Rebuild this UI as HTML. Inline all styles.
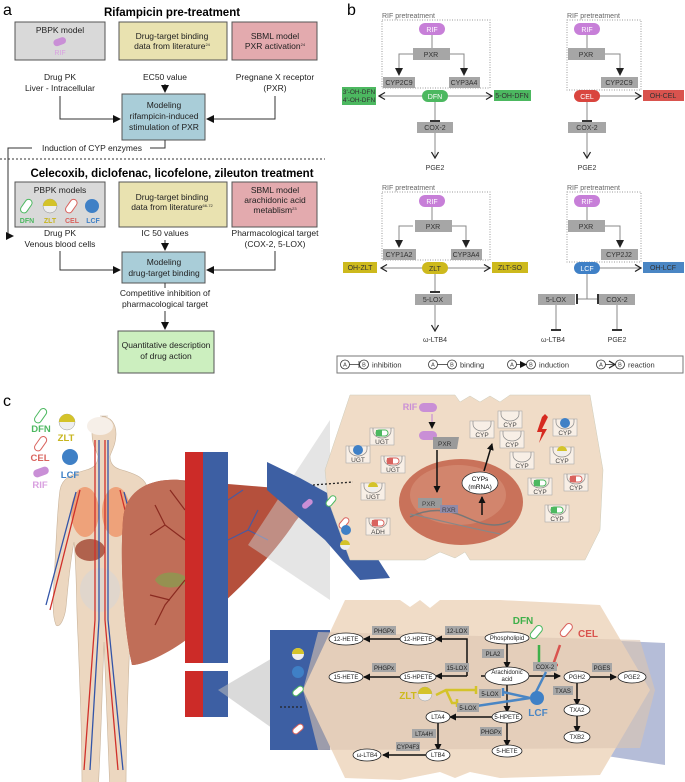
<!DOCTYPE html>
<html><head><meta charset="utf-8"><style>
html,body{margin:0;padding:0;background:#fff}
svg{display:block;font-family:"Liberation Sans",sans-serif}
</style></head><body>
<svg width="685" height="782" viewBox="0 0 685 782" xmlns="http://www.w3.org/2000/svg">
<defs>
<marker id="tri" markerWidth="8" markerHeight="8" refX="7" refY="4" orient="auto" markerUnits="userSpaceOnUse"><path d="M0,0L8,4L0,8z" fill="#111"/></marker>
<marker id="trig" markerWidth="8" markerHeight="8" refX="7" refY="4" orient="auto" markerUnits="userSpaceOnUse"><path d="M0,0L8,4L0,8z" fill="#222"/></marker>
<marker id="chev" markerWidth="8" markerHeight="8" refX="7" refY="4" orient="auto" markerUnits="userSpaceOnUse"><path d="M1,0.5L7,4L1,7.5" fill="none" stroke="#222" stroke-width="1.2"/></marker>
<marker id="bar" markerWidth="4" markerHeight="10" refX="2" refY="5" orient="auto" markerUnits="userSpaceOnUse"><path d="M2,0V10" stroke="#333" stroke-width="2"/></marker>
<marker id="arr" markerWidth="7" markerHeight="7" refX="6" refY="3.5" orient="auto" markerUnits="userSpaceOnUse"><path d="M0,0L7,3.5L0,7z" fill="#111"/></marker>
<g id="pk"><rect x="-12" y="-9" width="24" height="17" fill="#f8efe6" stroke="#aaa" stroke-width=".6"/><path d="M-9,-9v3a9,7 0 0 0 18,0v-3" fill="none" stroke="#888" stroke-width=".7"/></g>
</defs>

<!-- ============ PANEL A ============ -->
<text x="3" y="15" font-size="16">a</text>
<text x="172" y="16" font-size="11.5" font-weight="bold" text-anchor="middle">Rifampicin pre-treatment</text>
<g stroke="#555" stroke-width="1">
<rect x="15" y="22" width="90" height="38" fill="#d9d9d9"/>
<rect x="119" y="22" width="108" height="38" fill="#e9e2b0"/>
<rect x="232" y="22" width="85" height="38" fill="#e3aaae"/>
<rect x="122" y="94" width="83" height="46" fill="#a9cdd8"/>
<rect x="15" y="182" width="90" height="45" fill="#d9d9d9"/>
<rect x="119" y="182" width="108" height="45" fill="#e9e2b0"/>
<rect x="232" y="182" width="85" height="45" fill="#e3aaae"/>
<rect x="122" y="252" width="83" height="31" fill="#a9cdd8"/>
<rect x="118" y="331" width="96" height="42" fill="#ccefbf"/>
</g>
<g font-size="8.5" fill="#222" text-anchor="middle">
<text x="60" y="33">PBPK model</text>
<rect x="53" y="38" width="13" height="7" rx="3.5" fill="#c98fd6" transform="rotate(-20 60 41)"/>
<text x="60" y="55" fill="#d9a0e0" font-size="7">RIF</text>
<text x="172" y="39">Drug-target binding</text>
<text x="172" y="49">data from literature<tspan font-size="4" dy="-3">24</tspan></text>
<text x="275" y="39">SBML model</text>
<text x="275" y="49">PXR activation<tspan font-size="4" dy="-3">24</tspan></text>
<text x="60" y="80">Drug PK</text>
<text x="60" y="91">Liver - Intracellular</text>
<text x="165" y="80">EC50 value</text>
<text x="275" y="80">Pregnane X receptor</text>
<text x="275" y="91">(PXR)</text>
<text x="164" y="108">Modeling</text>
<text x="164" y="119">rifampicin-induced</text>
<text x="164" y="130">stimulation of PXR</text>
<text x="92" y="151">Induction of CYP enzymes</text>
<text x="60" y="193">PBPK models</text>
<text x="172" y="200">Drug-target binding</text>
<text x="172" y="210">data from literature<tspan font-size="4" dy="-3">66-72</tspan></text>
<text x="275" y="193">SBML model</text>
<text x="275" y="203">arachidonic acid</text>
<text x="275" y="213">metablism<tspan font-size="4" dy="-3">23</tspan></text>
<text x="60" y="236">Drug PK</text>
<text x="60" y="247">Venous blood cells</text>
<text x="165" y="236">IC 50 values</text>
<text x="275" y="236">Pharmacological target</text>
<text x="275" y="247">(COX-2, 5-LOX)</text>
<text x="164" y="265">Modeling</text>
<text x="164" y="276">drug-target binding</text>
<text x="165" y="296">Competitive inhibition of</text>
<text x="165" y="307">pharmacological target</text>
<text x="166" y="348">Quantitative description</text>
<text x="166" y="359">of drug action</text>
</g>
<g font-size="7" font-weight="bold" text-anchor="middle">
<rect x="23" y="199" width="7" height="15" rx="3.5" fill="#fff" stroke="#4cb860" transform="rotate(35 27 206)"/>
<text x="27" y="223" fill="#4cb860">DFN</text>
<circle cx="50" cy="206" r="7" fill="#eee" stroke="#888" stroke-width=".5"/><path d="M43,206a7,7 0 0 1 14,0z" fill="#d4c32a"/>
<text x="50" y="223" fill="#c7b51f">ZLT</text>
<rect x="68" y="199" width="7" height="15" rx="3.5" fill="#fff" stroke="#d9635e" transform="rotate(35 72 206)"/>
<text x="72" y="223" fill="#d9635e">CEL</text>
<circle cx="92" cy="206" r="7" fill="#3f80c6"/>
<text x="93" y="223" fill="#3f80c6">LCF</text>
</g>
<g stroke="#333" stroke-width="1" fill="none">
<path d="M60,96V119H120" marker-end="url(#tri)"/>
<path d="M275,96V119H207" marker-end="url(#tri)"/>
<path d="M165,84V92" marker-end="url(#tri)"/>
<path d="M165,140V148H150"/>
<path d="M32,148H8V236H13" marker-end="url(#tri)"/>
<path d="M60,251V270H120" marker-end="url(#tri)"/>
<path d="M275,251V270H207" marker-end="url(#tri)"/>
<path d="M165,240V250" marker-end="url(#tri)"/>
<path d="M165,283V288"/>
<path d="M165,311V329" marker-end="url(#tri)"/>
<path d="M0,159H325" stroke-dasharray="2,2"/>
</g>
<text x="172" y="177" font-size="11.5" font-weight="bold" text-anchor="middle">Celecoxib, diclofenac, licofelone, zileuton treatment</text>

<!-- ============ PANEL B ============ -->
<text x="347" y="15" font-size="16">b</text>
<g font-size="7" fill="#333" text-anchor="middle">
<text x="382" y="18" text-anchor="start" fill="#666">RIF pretreatment</text>
<rect x="382" y="20" width="108" height="68" fill="none" stroke="#999" stroke-dasharray="1,1.5"/>
<g stroke="#888" fill="none" stroke-width="1">
<path d="M432,35V48"/>
<path d="M413,54H399V75" marker-end="url(#trig)"/>
<path d="M450,54H464V75" marker-end="url(#trig)"/>
<path d="M422,96H379" marker-end="url(#chev)"/>
<path d="M448,96H492" marker-end="url(#chev)"/>
<path d="M435,102V121" marker-end="url(#bar)"/>
<path d="M435,133V158" marker-end="url(#chev)"/>
</g>
<rect x="419" y="23" width="26" height="12" rx="6" fill="#c77fd8"/><text x="432" y="32" fill="#fff">RIF</text>
<rect x="413" y="48" width="37" height="12" fill="#a6a6a6"/><text x="431" y="57">PXR</text>
<rect x="383" y="77" width="32" height="11" fill="#a6a6a6"/><text x="399" y="85">CYP2C9</text>
<rect x="449" y="77" width="31" height="11" fill="#a6a6a6"/><text x="464" y="85">CYP3A4</text>
<rect x="422" y="90" width="26" height="12" rx="6" fill="#4cb860"/><text x="435" y="99" fill="#fff">DFN</text>
<rect x="342" y="87" width="34" height="18" fill="#4cb860"/><text x="359" y="94" font-size="6.5">3'-OH-DFN</text><text x="359" y="102" font-size="6.5">4'-OH-DFN</text>
<rect x="494" y="90" width="37" height="11" fill="#4cb860"/><text x="512" y="98">5-OH-DFN</text>
<rect x="417" y="122" width="36" height="11" fill="#a6a6a6"/><text x="435" y="130">COX-2</text>
<text x="435" y="170">PGE2</text>

<text x="567" y="18" text-anchor="start" fill="#666">RIF pretreatment</text>
<rect x="567" y="20" width="74" height="70" fill="none" stroke="#999" stroke-dasharray="1,1.5"/>
<g stroke="#888" fill="none">
<path d="M587,35V48"/>
<path d="M605,54H620V75" marker-end="url(#trig)"/>
<path d="M600,96H641" marker-end="url(#chev)"/>
<path d="M587,102V121" marker-end="url(#bar)"/>
<path d="M587,133V158" marker-end="url(#chev)"/>
</g>
<rect x="574" y="23" width="26" height="12" rx="6" fill="#c77fd8"/><text x="587" y="32" fill="#fff">RIF</text>
<rect x="568" y="48" width="37" height="12" fill="#a6a6a6"/><text x="586" y="57">PXR</text>
<rect x="601" y="77" width="37" height="11" fill="#a6a6a6"/><text x="619" y="85">CYP2C9</text>
<rect x="574" y="90" width="26" height="12" rx="6" fill="#d9453e"/><text x="587" y="99" fill="#fff">CEL</text>
<rect x="643" y="90" width="41" height="11" fill="#d9534e"/><text x="663" y="98">OH-CEL</text>
<rect x="568" y="122" width="38" height="11" fill="#a6a6a6"/><text x="587" y="130">COX-2</text>
<text x="587" y="170">PGE2</text>

<text x="382" y="190" text-anchor="start" fill="#666">RIF pretreatment</text>
<rect x="382" y="192" width="108" height="68" fill="none" stroke="#999" stroke-dasharray="1,1.5"/>
<g stroke="#888" fill="none">
<path d="M432,207V220"/>
<path d="M413,226H399V247" marker-end="url(#trig)"/>
<path d="M450,226H466V247" marker-end="url(#trig)"/>
<path d="M422,268H381" marker-end="url(#chev)"/>
<path d="M448,268H490" marker-end="url(#chev)"/>
<path d="M435,274V292" marker-end="url(#bar)"/>
<path d="M435,305V331" marker-end="url(#chev)"/>
</g>
<rect x="419" y="195" width="26" height="12" rx="6" fill="#c77fd8"/><text x="432" y="204" fill="#fff">RIF</text>
<rect x="415" y="220" width="37" height="12" fill="#a6a6a6"/><text x="433" y="229">PXR</text>
<rect x="383" y="249" width="33" height="11" fill="#a6a6a6"/><text x="399" y="257">CYP1A2</text>
<rect x="451" y="249" width="31" height="11" fill="#a6a6a6"/><text x="466" y="257">CYP3A4</text>
<rect x="422" y="262" width="26" height="12" rx="6" fill="#cdb91d"/><text x="435" y="271">ZLT</text>
<rect x="343" y="262" width="34" height="11" fill="#cdb91d"/><text x="360" y="270">OH-ZLT</text>
<rect x="492" y="262" width="36" height="11" fill="#cdb91d"/><text x="510" y="270">ZLT-SO</text>
<rect x="415" y="294" width="37" height="11" fill="#a6a6a6"/><text x="433" y="302">5-LOX</text>
<text x="435" y="342">ω-LTB4</text>

<text x="567" y="190" text-anchor="start" fill="#666">RIF pretreatment</text>
<rect x="567" y="192" width="74" height="70" fill="none" stroke="#999" stroke-dasharray="1,1.5"/>
<g stroke="#888" fill="none">
<path d="M587,207V220"/>
<path d="M605,226H620V247" marker-end="url(#trig)"/>
<path d="M600,268H641" marker-end="url(#chev)"/>
<path d="M587,274V299"/>
<path d="M587,299H577" marker-end="url(#bar)"/>
<path d="M587,299H598" marker-end="url(#bar)"/>
<path d="M556,305V330" marker-end="url(#bar)"/>
<path d="M617,305V330" marker-end="url(#bar)"/>
</g>
<rect x="574" y="195" width="26" height="12" rx="6" fill="#c77fd8"/><text x="587" y="204" fill="#fff">RIF</text>
<rect x="568" y="220" width="37" height="12" fill="#a6a6a6"/><text x="586" y="229">PXR</text>
<rect x="601" y="249" width="37" height="11" fill="#a6a6a6"/><text x="619" y="257">CYP2J2</text>
<rect x="574" y="262" width="26" height="12" rx="6" fill="#3f80c6"/><text x="587" y="271" fill="#fff">LCF</text>
<rect x="643" y="262" width="41" height="11" fill="#4a86c4"/><text x="663" y="270">OH-LCF</text>
<rect x="538" y="294" width="37" height="11" fill="#a6a6a6"/><text x="556" y="302">5-LOX</text>
<rect x="599" y="294" width="36" height="11" fill="#a6a6a6"/><text x="617" y="302">COX-2</text>
<text x="553" y="342">ω-LTB4</text>
<text x="617" y="342">PGE2</text>
</g>
<rect x="337" y="356" width="346" height="17" fill="#fff" stroke="#777"/>
<g font-size="7.5" fill="#333">
<g fill="none" stroke="#333" stroke-width=".8">
<circle cx="345" cy="364.5" r="4.5"/><circle cx="364" cy="364.5" r="4.5"/><path d="M349.5,364.5H359M359,361V368"/>
<circle cx="433" cy="364.5" r="4.5"/><circle cx="452" cy="364.5" r="4.5"/><path d="M437.5,364.5H447.5"/>
<circle cx="512" cy="364.5" r="4.5"/><circle cx="531" cy="364.5" r="4.5"/><path d="M516.5,364.5H526" marker-end="url(#arr)"/>
<circle cx="601" cy="364.5" r="4.5"/><circle cx="620" cy="364.5" r="4.5"/><path d="M605.5,364.5H615" marker-end="url(#chev)"/>
</g>
<g font-size="5.5" text-anchor="middle"><text x="345" y="366.5">A</text><text x="364" y="366.5">B</text><text x="433" y="366.5">A</text><text x="452" y="366.5">B</text><text x="512" y="366.5">A</text><text x="531" y="366.5">B</text><text x="601" y="366.5">A</text><text x="620" y="366.5">B</text></g>
<text x="372" y="367.5">inhibition</text><text x="460" y="367.5">binding</text><text x="539" y="367.5">induction</text><text x="628" y="367.5">reaction</text>
</g>

<!-- ============ PANEL C ============ -->
<text x="3" y="406" font-size="16">c</text>
<!-- human -->
<path d="M100,416c11,0 16,8 16,18c0,10 -4,16 -6,22c0,8 4,12 12,14c14,4 24,8 26,20c3,20 4,60 6,90c1,20 2,35 -2,45c-4,4 -9,-8 -10,-18c-2,-20 -4,-45 -8,-65c-3,30 -2,60 -4,95c-2,50 -4,100 -4,155c-1,5 -14,5 -16,0c-2,-50 -4,-100 -6,-150c-2,50 -3,100 -6,150c-2,5 -15,5 -16,0c0,-55 -2,-105 -4,-155c-2,-35 -1,-65 -4,-95c-4,20 -6,45 -8,65c-1,10 -6,22 -10,18c-4,-10 -3,-25 -2,-45c2,-30 3,-70 6,-90c2,-12 12,-16 26,-20c8,-2 12,-6 12,-14c-2,-6 -6,-12 -6,-22c0,-10 5,-18 16,-18z" fill="#ecd7c0" stroke="#c9b49c" stroke-width=".6"/>
<ellipse cx="100" cy="426" rx="13" ry="9" fill="#f6efe8"/>
<ellipse cx="85" cy="512" rx="14" ry="25" fill="#eea27a"/>
<ellipse cx="116" cy="512" rx="14" ry="25" fill="#eea27a"/>
<ellipse cx="90" cy="550" rx="15" ry="11" fill="#b0624d"/>
<ellipse cx="100" cy="590" rx="20" ry="22" fill="#e0d6cc"/>
<g stroke="#d0302a" stroke-width="1.3" fill="none"><path d="M95,440V620L84,770M105,440V620L118,770M80,490L50,610M120,490L150,610"/></g>
<g stroke="#3355a8" stroke-width="1.3" fill="none"><path d="M99,440V620L90,770M108,440V620L123,770M76,492L46,605M124,492L154,605"/></g>
<!-- legend pills -->
<g font-size="9.5" font-weight="bold" text-anchor="middle">
<rect x="37" y="408" width="7" height="16" rx="3.5" fill="#fff" stroke="#4cb860" transform="rotate(35 41 416)"/>
<text x="41" y="432" fill="#4cb860">DFN</text>
<circle cx="67" cy="422" r="8" fill="#eee" stroke="#999" stroke-width=".5"/><path d="M59,422a8,8 0 0 1 16,0z" fill="#d4c32a"/>
<text x="66" y="441" fill="#c7b51f">ZLT</text>
<rect x="37" y="436" width="7" height="16" rx="3.5" fill="#fff" stroke="#d9635e" transform="rotate(35 41 444)"/>
<text x="40" y="461" fill="#d9635e">CEL</text>
<circle cx="70" cy="457" r="8" fill="#3f80c6"/>
<text x="70" y="478" fill="#3f80c6">LCF</text>
<rect x="33" y="468" width="16" height="8" rx="4" fill="#c98fd6" transform="rotate(-20 41 472)"/>
<text x="40" y="488" fill="#d9a0e0">RIF</text>
</g>
<!-- liver -->
<path d="M123,520C125,490 150,478 180,480L300,490C312,496 305,510 295,522C270,560 230,598 195,628C170,650 145,665 132,665C123,625 120,560 123,520z" fill="#b5503c"/>
<path d="M123,520C125,490 150,478 180,480L186,482L186,640C170,652 145,665 132,665C123,625 120,560 123,520z" fill="#c06e58"/>
<path d="M155,580c5,-10 25,-10 35,0c-10,10 -30,10 -35,0z" fill="#8a9a50" opacity=".8"/>
<g stroke="#8a2a20" stroke-width="1.2" fill="none"><path d="M185,540l-20,-15l-10,-20M165,525l-15,10M185,580l-20,25l-10,20M170,600l-20,-5M185,510l-15,-20"/></g>
<g stroke="#4a5aa0" stroke-width="1.2" fill="none"><path d="M228,540l20,-10l10,-20M248,530l20,10M228,500l15,-10"/></g>
<!-- vessels -->
<rect x="185" y="452" width="18" height="265" fill="#cc2b28"/>
<rect x="203" y="452" width="25" height="265" fill="#3d5fa3"/>
<rect x="185" y="663" width="43" height="8" fill="#fff"/>
<!-- zoom cones -->
<path d="M248,545L330,420L330,600z" fill="#ccc" opacity=".5"/>
<path d="M218,690L303,640L303,750z" fill="#bbb" opacity=".55"/>
<!-- blue vessel to top cell -->
<path d="M267,462L300,478L340,500L390,578L360,580L325,540L267,490z" fill="#3d5fa3"/>
<!-- top cell -->
<path d="M350,395L455,395L460,402L470,396L480,402L490,396L500,402L510,395L590,395L603,470L600,530L585,560L470,560L465,552L455,558L440,552L425,560L350,560L328,500L325,470z" fill="#f0dcc7" stroke="#ccb" stroke-width=".5"/>
<path d="M313,485l40,-3" stroke="#222" stroke-width="1.3" stroke-dasharray="2,2" fill="none"/>
<ellipse cx="461" cy="502" rx="62" ry="43" fill="#c9725a"/>
<ellipse cx="458" cy="495" rx="48" ry="30" fill="#d8927a" opacity=".6"/>
<path d="M410,517c25,-12 45,-5 60,2c15,7 30,8 40,2" stroke="#777" stroke-width="1.5" fill="none"/>
<path d="M410,514c25,5 50,12 90,20" stroke="#888" stroke-width="1.2" fill="none"/>
<rect x="418" y="498" width="24" height="10" fill="#9a9a9a"/><text x="422" y="506" font-size="6.5" fill="#444">PXR</text>
<rect x="440" y="505" width="18" height="8" fill="#8f8aa8"/><text x="442" y="512" font-size="6.5" fill="#444">RXR</text>
<ellipse cx="480" cy="483" rx="18" ry="11" fill="#fff" stroke="#333" stroke-width=".8"/>
<text x="480" y="481" font-size="6.5" text-anchor="middle">CYPs</text><text x="480" y="489" font-size="6.5" text-anchor="middle">(mRNA)</text>
<g stroke="#111" stroke-width="1.5" fill="none">
<path d="M437,450V492" marker-end="url(#arr)"/>
<path d="M482,515V497" marker-end="url(#arr)"/>
<path d="M484,471L492,444" marker-end="url(#arr)"/>
</g>
<path d="M432,414V428" stroke="#c98fd6" stroke-width="1.2" marker-end="url(#arr)"/>
<text x="410" y="410" font-size="9" font-weight="bold" fill="#c98fd6" text-anchor="middle">RIF</text>
<rect x="419" y="403" width="18" height="9" rx="4.5" fill="#c98fd6"/>
<rect x="419" y="431" width="18" height="9" rx="4.5" fill="#c98fd6"/>
<path d="M433,437h26l-2,12h-24z" fill="#9a9a9a"/><text x="438" y="446" font-size="6.5" fill="#333">PXR</text>
<g font-size="6.5" fill="#444" text-anchor="middle">
<use href="#pk" x="382" y="437"/><text x="382" y="444">UGT</text>
<use href="#pk" x="358" y="455"/><text x="358" y="462">UGT</text>
<use href="#pk" x="393" y="465"/><text x="393" y="472">UGT</text>
<use href="#pk" x="373" y="492"/><text x="373" y="499">UGT</text>
<use href="#pk" x="378" y="527"/><text x="378" y="534">ADH</text>
<use href="#pk" x="482" y="430"/><text x="482" y="437">CYP</text>
<use href="#pk" x="510" y="420"/><text x="510" y="427">CYP</text>
<use href="#pk" x="512" y="440"/><text x="512" y="447">CYP</text>
<use href="#pk" x="522" y="461"/><text x="522" y="468">CYP</text>
<use href="#pk" x="565" y="428"/><text x="565" y="435">CYP</text>
<use href="#pk" x="562" y="456"/><text x="562" y="463">CYP</text>
<use href="#pk" x="540" y="487"/><text x="540" y="494">CYP</text>
<use href="#pk" x="576" y="483"/><text x="576" y="490">CYP</text>
<use href="#pk" x="557" y="514"/><text x="557" y="521">CYP</text>
</g>
<rect x="376" y="430" width="12" height="6" rx="3" fill="#fff" stroke="#4cb860"/><rect x="376" y="430" width="6" height="6" fill="#4cb860"/>
<circle cx="358" cy="450" r="5" fill="#3f80c6"/>
<rect x="387" y="458" width="12" height="6" rx="3" fill="#fff" stroke="#d9635e"/><rect x="387" y="458" width="6" height="6" fill="#d9635e"/>
<circle cx="373" cy="487" r="5" fill="#eee"/><path d="M368,487a5,5 0 0 1 10,0z" fill="#d4c32a"/>
<rect x="372" y="520" width="12" height="6" rx="3" fill="#fff" stroke="#d9635e"/><rect x="372" y="520" width="6" height="6" fill="#d9635e"/>
<circle cx="565" cy="423" r="5" fill="#3f80c6"/>
<circle cx="562" cy="451" r="5" fill="#eee"/><path d="M557,451a5,5 0 0 1 10,0z" fill="#d4c32a"/>
<rect x="534" y="480" width="12" height="6" rx="3" fill="#fff" stroke="#4cb860"/><rect x="534" y="480" width="6" height="6" fill="#4cb860"/>
<rect x="570" y="476" width="12" height="6" rx="3" fill="#fff" stroke="#d9635e"/><rect x="570" y="476" width="6" height="6" fill="#d9635e"/>
<rect x="551" y="507" width="12" height="6" rx="3" fill="#fff" stroke="#4cb860"/><rect x="551" y="507" width="6" height="6" fill="#4cb860"/>
<path d="M545,414l3,3l-6,12l5,0l-8,14l3,-11l-5,0l5,-15z" fill="#d62a20"/>
<g transform="rotate(-40 312 500)"><rect x="300" y="497" width="12" height="6" rx="3" fill="#c98fd6"/></g>
<rect x="325" y="498" width="12" height="6" rx="3" fill="#fff" stroke="#4cb860" transform="rotate(-50 331 501)"/>
<rect x="338" y="520" width="12" height="6" rx="3" fill="#fff" stroke="#d9635e" transform="rotate(-50 344 523)"/>
<circle cx="346" cy="530" r="5" fill="#3f80c6"/>
<circle cx="345" cy="545" r="5" fill="#eee"/><path d="M340,545a5,5 0 0 1 10,0z" fill="#d4c32a"/>

<!-- bottom cell -->
<rect x="270" y="630" width="60" height="120" fill="#3d5fa3"/>
<path d="M600,640L665,643L665,765L600,755z" fill="#b5bdd8"/>
<path d="M345,600L400,600L410,607L420,600L430,608L440,600L500,600L600,605L650,690L600,775L500,778L470,772L455,778L440,772L400,780L345,778L303,690z" fill="#f0dcc7"/>
<path d="M318,632L640,640L655,690L640,748L318,750L303,690z" fill="#dcc5b0" opacity=".6"/>
<path d="M280,707h22" stroke="#222" stroke-width="1.3" stroke-dasharray="2,2"/>
<circle cx="298" cy="654" r="6" fill="#eee"/><path d="M292,654a6,6 0 0 1 12,0z" fill="#d4c32a"/>
<circle cx="298" cy="672" r="6" fill="#3f80c6"/>
<rect x="292" y="688" width="12" height="6" rx="3" fill="#fff" stroke="#4cb860" transform="rotate(-40 298 691)"/>
<rect x="292" y="726" width="12" height="6" rx="3" fill="#fff" stroke="#d9635e" transform="rotate(-40 298 729)"/>
<g stroke="#111" stroke-width="1.5" fill="none">
<path d="M525,676H481" /><path d="M467,676V639H436" marker-end="url(#arr)"/>
<path d="M400,639H364" marker-end="url(#arr)"/><path d="M467,676H436" marker-end="url(#arr)"/><path d="M400,677H364" marker-end="url(#arr)"/>
<path d="M507,643V668" marker-end="url(#arr)"/>
<path d="M529,676H560" marker-end="url(#arr)"/>
<path d="M590,677H616" marker-end="url(#arr)"/>
<path d="M577,682V705" marker-end="url(#arr)"/><path d="M577,715V732" marker-end="url(#arr)"/>
<path d="M507,684V712" marker-end="url(#arr)"/>
<path d="M494,717H450" marker-end="url(#arr)"/>
<path d="M438,722V750" marker-end="url(#arr)"/>
<path d="M507,722V746" marker-end="url(#arr)"/>
<path d="M427,755H383" marker-end="url(#arr)"/>
</g>
<g stroke-width="2.5" fill="none">
<path d="M539,645V665M534,665H544" stroke="#3fb04a"/>
<path d="M560,645L553,665M548,665H558" stroke="#d9534e"/>
<path d="M436,695L446,690H476M476,686V694M446,690L452,703H457M457,699V707" stroke="#d4c32a"/>
<path d="M530,698L503,692M503,688V696M530,698L470,707M470,703V711M536,692L546,672M541,670H551" stroke="#4a86c4"/>
</g>
<g font-size="6" fill="#222" text-anchor="middle">
<g fill="#fff" stroke="#222" stroke-width=".8">
<ellipse cx="346" cy="639" rx="17" ry="6"/><ellipse cx="418" cy="639" rx="18" ry="6"/><ellipse cx="507" cy="638" rx="22" ry="6"/>
<ellipse cx="346" cy="677" rx="17" ry="6"/><ellipse cx="418" cy="677" rx="18" ry="6"/><ellipse cx="507" cy="676" rx="22" ry="9"/>
<ellipse cx="577" cy="677" rx="13" ry="6"/><ellipse cx="632" cy="677" rx="14" ry="6"/><ellipse cx="577" cy="710" rx="13" ry="6"/><ellipse cx="577" cy="737" rx="13" ry="6"/>
<ellipse cx="438" cy="717" rx="12" ry="6"/><ellipse cx="507" cy="717" rx="15" ry="6"/><ellipse cx="367" cy="755" rx="14" ry="6"/><ellipse cx="438" cy="755" rx="12" ry="6"/><ellipse cx="507" cy="751" rx="15" ry="6"/>
</g>
<text x="346" y="641">12-HETE</text><text x="418" y="641">12-HPETE</text><text x="507" y="640">Phospholipid</text>
<text x="346" y="679">15-HETE</text><text x="418" y="679">15-HPETE</text><text x="507" y="674">Arachidonic</text><text x="507" y="681">acid</text>
<text x="577" y="679">PGH2</text><text x="632" y="679">PGE2</text><text x="577" y="712">TXA2</text><text x="577" y="739">TXB2</text>
<text x="438" y="719">LTA4</text><text x="507" y="719">5-HPETE</text><text x="367" y="757">ω-LTB4</text><text x="438" y="757">LTB4</text><text x="507" y="753">5-HETE</text>
<g fill="#a6a6a6"><rect x="372" y="626" width="24" height="9"/><rect x="445" y="626" width="24" height="9"/><rect x="372" y="663" width="24" height="9"/><rect x="445" y="663" width="24" height="9"/><rect x="482" y="649" width="22" height="9"/><rect x="533" y="662" width="24" height="9"/><rect x="592" y="663" width="20" height="9"/><rect x="553" y="686" width="20" height="9"/><rect x="479" y="689" width="22" height="9"/><rect x="457" y="703" width="22" height="9"/><rect x="412" y="729" width="24" height="9"/><rect x="480" y="727" width="22" height="9"/><rect x="396" y="742" width="24" height="9"/></g>
<text x="384" y="633">PHGPx</text><text x="457" y="633">12-LOX</text><text x="384" y="670">PHGPx</text><text x="457" y="670">15-LOX</text><text x="493" y="656">PLA2</text><text x="545" y="669">COX-2</text><text x="602" y="670">PGES</text><text x="563" y="693">TXAS</text><text x="490" y="696">5-LOX</text><text x="468" y="710">5-LOX</text><text x="424" y="736">LTA4H</text><text x="491" y="734">PHGPx</text><text x="408" y="749">CYP4F3</text>
</g>
<g font-size="10" font-weight="bold" text-anchor="middle">
<text x="523" y="624" fill="#3fb04a">DFN</text><text x="588" y="637" fill="#d9534e">CEL</text><text x="408" y="699" fill="#cdb91d">ZLT</text><text x="538" y="716" fill="#4a86c4">LCF</text>
</g>
<rect x="533" y="625" width="7" height="15" rx="3.5" fill="#fff" stroke="#4cb860" transform="rotate(40 537 632)"/>
<rect x="563" y="623" width="7" height="15" rx="3.5" fill="#fff" stroke="#d9635e" transform="rotate(40 567 630)"/>
<circle cx="425" cy="694" r="7" fill="#eee" stroke="#999" stroke-width=".5"/><path d="M418,694a7,7 0 0 1 14,0z" fill="#d4c32a"/>
<circle cx="537" cy="698" r="7" fill="#3f80c6"/>
</svg>
</body></html>
